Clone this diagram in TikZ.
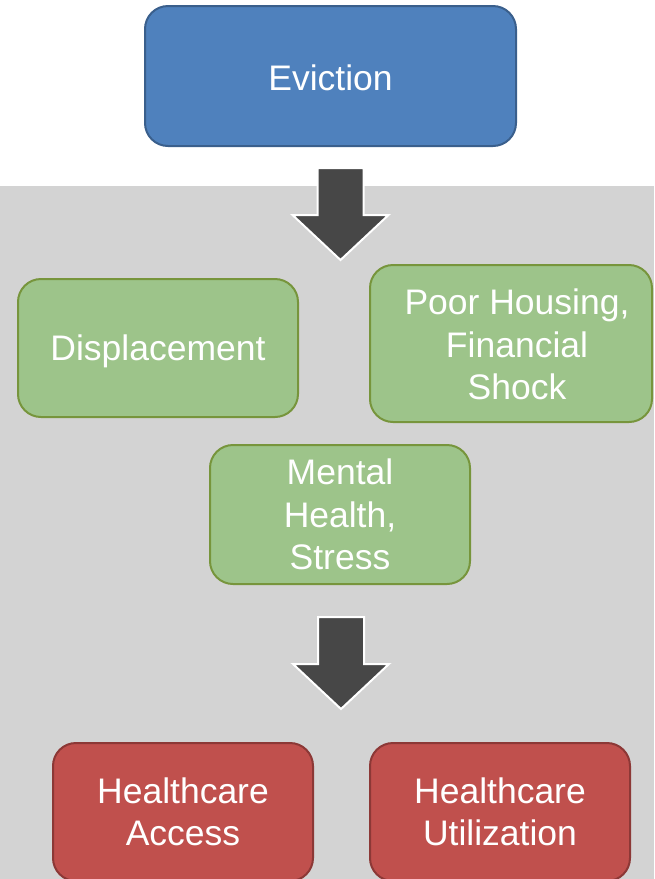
\documentclass[tikz,border=0pt]{standalone}
\usepackage{fontspec}
\setmainfont{Liberation Sans}
\begin{document}
\definecolor{bgGray}{HTML}{D3D3D3}
\definecolor{evFill}{HTML}{4F81BD}
\definecolor{evLine}{HTML}{3A5F8C}
\definecolor{gnFill}{HTML}{9DC48A}
\definecolor{gnLine}{HTML}{77953C}
\definecolor{rdFill}{HTML}{C0504D}
\definecolor{rdLine}{HTML}{8C3836}
\definecolor{arrowDark}{HTML}{474747}
\begin{tikzpicture}[x=1pt,y=-1pt,
  boxtext/.style={inner sep=0pt, align=center, text=white,
    font=\fontsize{35.5}{42.5}\selectfont},
  box/.style={boxtext, rectangle, rounded corners=23pt, line width=2pt},
  bluebox/.style={box, fill=evFill, draw=evLine},
  greenbox/.style={box, fill=gnFill, draw=gnLine},
  redbox/.style={box, fill=rdFill, draw=rdLine},
  blockarrow/.style={fill=arrowDark, draw=white, line width=2pt, line join=miter}]
  \useasboundingbox (0,0) rectangle (654,879);
  % grey panel behind the lower part
  \fill[bgGray] (0,186) rectangle (654,879);

  \node[bluebox, minimum width=371pt, minimum height=140pt, text height=29pt] (evict) at (330.5,76) {Eviction};

  \node[greenbox, minimum width=280pt, minimum height=138pt, text depth=0pt] (displ) at (158,348) {Displacement};
  \node[greenbox, minimum width=282pt, minimum height=157pt] (poor) at (511,343.5) {};
  \node[boxtext] (poortext) at ([xshift=6pt,yshift=-1pt]poor.center)
    {Poor Housing,\\Financial\\Shock};
  \node[greenbox, minimum width=260pt, minimum height=139pt] (mental) at (340,514.5)
    {Mental\\Health,\\Stress};

  \node[redbox, minimum width=260pt, minimum height=138pt] (access) at (183,812)
    {Healthcare\\Access};
  \node[redbox, minimum width=260pt, minimum height=138pt] (util) at (500,812)
    {Healthcare\\Utilization};

  % block arrows between the stages
  \coordinate (a1) at (340.5,168);
  \coordinate (a2) at (341,617);
  \foreach \c in {a1,a2}{
    \draw[blockarrow] (\c) ++(-23,0) -- ++(46,0) -- ++(0,47) -- ++(25,0)
      -- ++(-48,45) -- ++(-48,-45) -- ++(25,0) -- cycle;
  }
\end{tikzpicture}
\end{document}
